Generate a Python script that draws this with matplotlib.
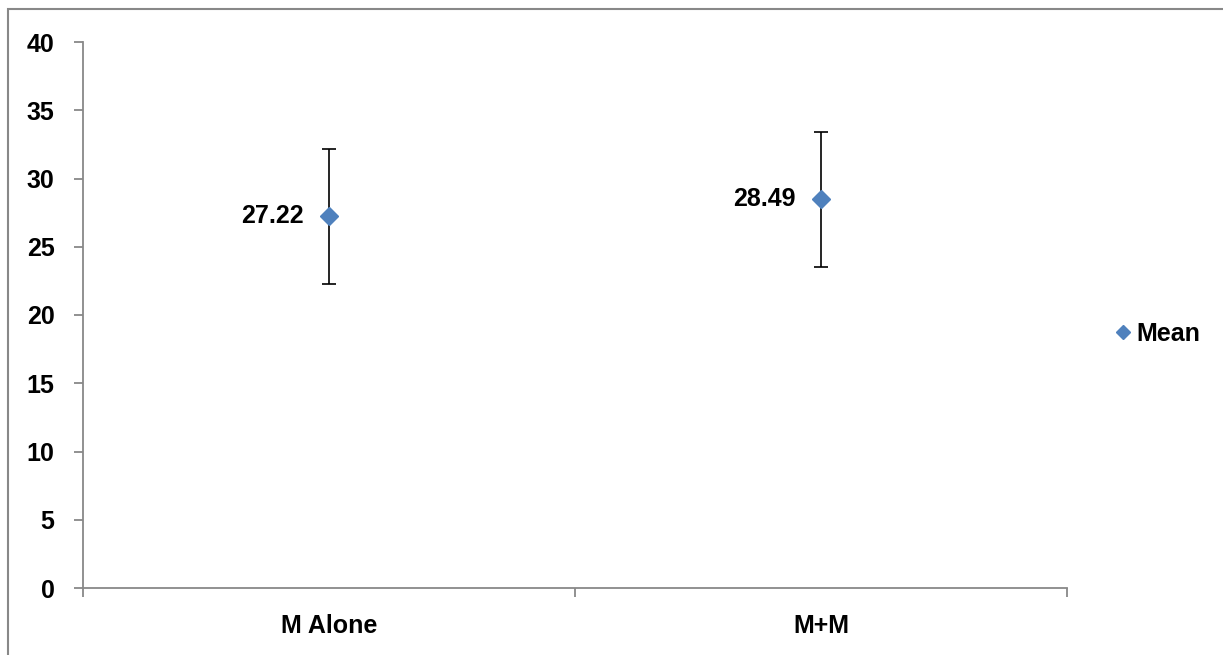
import numpy as np
import matplotlib.pyplot as plt
from matplotlib.patches import Rectangle
from matplotlib.lines import Line2D

categories = ['M Alone', 'M+M']
means = [27.22, 28.49]
errors = [4.95, 4.95]
y_ticks = [0, 5, 10, 15, 20, 25, 30, 35, 40]

plt.rcParams['font.family'] = ['Liberation Sans', 'DejaVu Sans']
plt.rcParams['font.weight'] = 'bold'

fig = plt.figure(figsize=(12.23, 6.55), dpi=100)
ax = fig.add_axes([83 / 1223, 1 - 588 / 655, 984 / 1223, 546 / 655])

# outer chart border
fig.patches.append(Rectangle((8 / 1223, -0.05), 1.1, 1 - 9 / 655 + 0.05,
                             transform=fig.transFigure, fill=False,
                             edgecolor='#888888', linewidth=1.5))

x = np.arange(len(categories)) + 0.5
blue = '#4F81BD'
ax.errorbar(x, means, yerr=errors, fmt='none', ecolor='black',
            elinewidth=1.2, capsize=5, capthick=1.2, zorder=2)
ax.plot(x, means, linestyle='none', marker='D', markersize=9,
        color=blue, zorder=3)

for xi, m in zip(x, means):
    ax.annotate(f'{m:.2f}', (xi, m), xytext=(-18, 0), textcoords='offset points',
                ha='right', va='center', fontsize=18, fontweight='bold')

ax.set_xlim(0, 2)
ax.set_ylim(0, 40)
ax.set_yticks(y_ticks)
ax.set_yticklabels([str(t) for t in y_ticks])
ax.set_xticks([0, 1, 2])
ax.set_xticklabels([])
ax.set_xticks(x, minor=True)
ax.set_xticklabels(categories, minor=True)

for s in ['top', 'right']:
    ax.spines[s].set_visible(False)
for s in ['left', 'bottom']:
    ax.spines[s].set_color('#888888')
    ax.spines[s].set_linewidth(1.3)

ax.tick_params(axis='both', which='major', direction='out', length=6.5,
               color='#888888', width=1.3, labelsize=18)
ax.tick_params(axis='y', pad=14)
ax.tick_params(axis='x', which='minor', length=0, labelsize=18, pad=19)
for lbl in ax.get_xticklabels(minor=True) + ax.get_yticklabels():
    lbl.set_fontweight('bold')

handle = Line2D([], [], linestyle='none', marker='D', markersize=7.5, color=blue)
fig.legend([handle], ['Mean'], loc='center left',
           bbox_to_anchor=(1088 / 1223, 1 - 334 / 655), frameon=False,
           handletextpad=0.05, handlelength=1.0,
           prop={'size': 18, 'weight': 'bold'})

fig.savefig('out.png', dpi=100)
